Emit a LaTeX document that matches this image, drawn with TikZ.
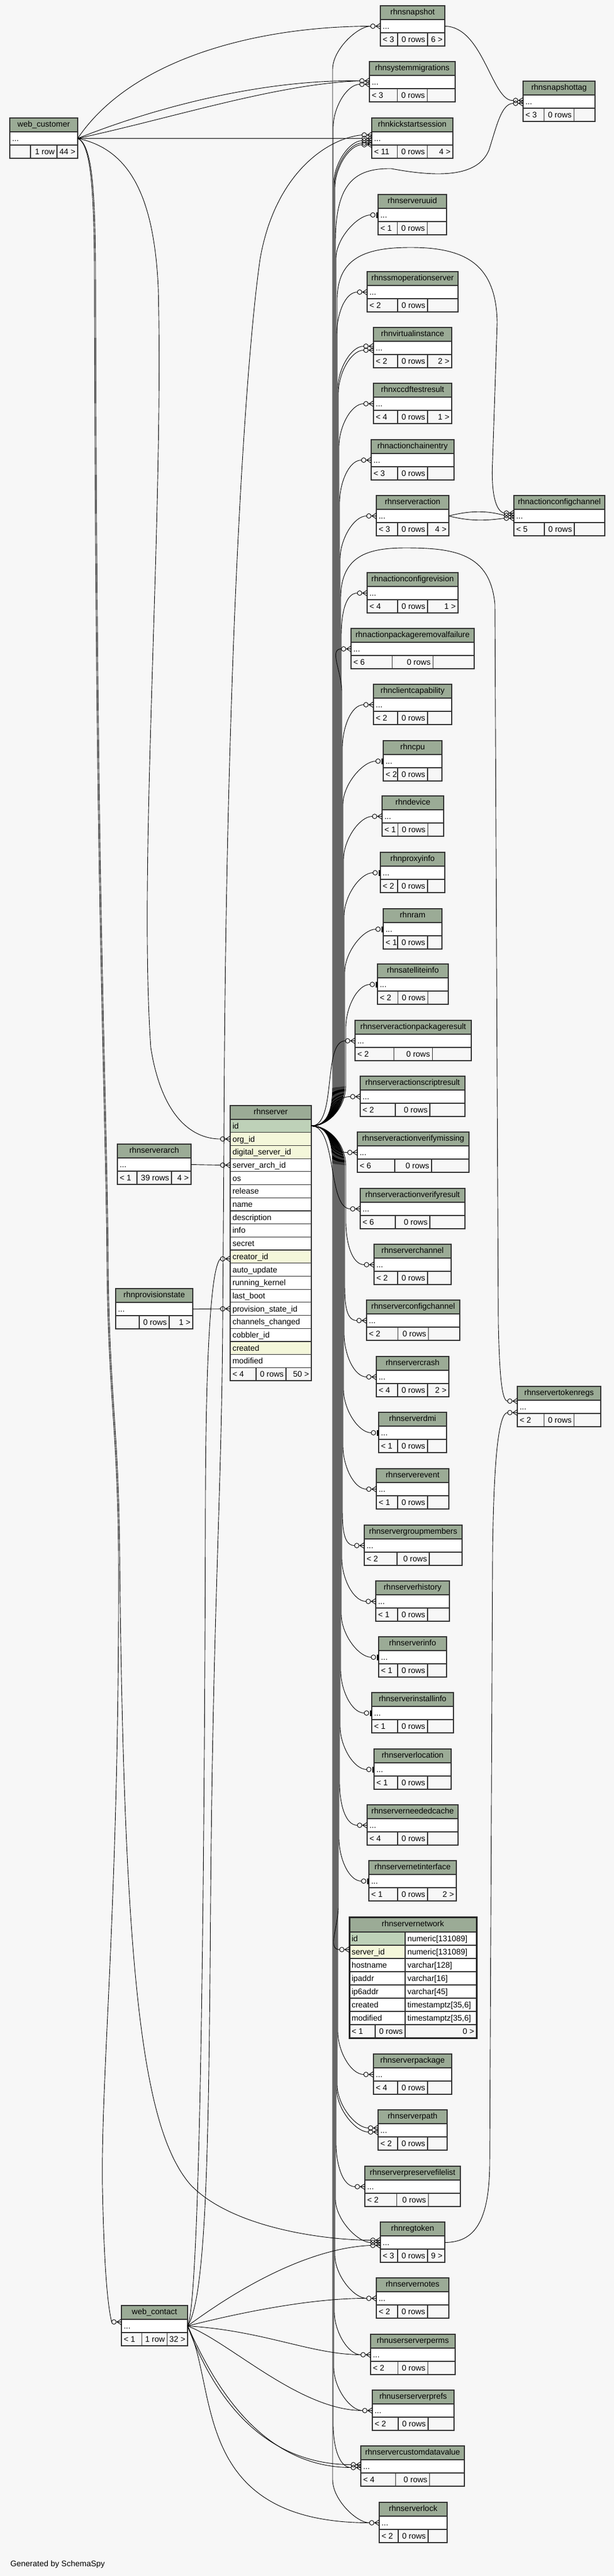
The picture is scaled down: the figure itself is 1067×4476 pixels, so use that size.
\documentclass[tikz,border=0pt]{standalone}
\usepackage{fontspec}
\setmainfont{Liberation Sans}
\usetikzlibrary{calc}
\definecolor{bgcol}{HTML}{F7F7F7}
\definecolor{headcol}{HTML}{9BAB96}
\definecolor{pkcol}{HTML}{BED1B8}
\definecolor{idxcol}{HTML}{F4F7DA}
\tikzset{
  box/.style={draw=black!80, line width=1.2pt},
  ttl/.style={box, fill=headcol, minimum height=24pt, inner sep=0pt, outer sep=0pt, text height=10pt, text depth=3pt},
  dotrow/.style={box, fill=white, minimum height=23pt, inner sep=0pt, outer sep=0pt},
  colrow/.style={box, minimum height=22.7pt, inner sep=0pt, outer sep=0pt},
  txt/.style={inner sep=0pt, outer sep=0pt},
  fk/.style={draw=black, line width=0.9pt},
}
% table: [half width of middle cell], name, left, top, width, title, footer left, middle, right
\newcommand\dbtable[9][0]{%
  \pgfmathsetmacro\tblhw{#5/2}%
  \pgfmathsetmacro\tblhm{#1>0 ? #1 : max(26,0.165*#5)}%
  \node[ttl, minimum width=#5pt] (#2) at ({#3+\tblhw},{#4+12}) {#6};
  \node[dotrow, minimum width=#5pt] (#2-r) at ({#3+\tblhw},{#4+35.5}) {};
  \node[txt, anchor=base west] (#2-d) at ({#3+4},{#4+40.5}) {...};
  \draw[box, fill=bgcol] (#3,{#4+47}) rectangle ({#3+#5},{#4+70});
  \draw[box] ({#3+\tblhw-\tblhm},{#4+47}) -- ({#3+\tblhw-\tblhm},{#4+70}) ({#3+\tblhw+\tblhm},{#4+47}) -- ({#3+\tblhw+\tblhm},{#4+70});
  \node[txt, anchor=base west] (#2-lf) at ({#3+4},{#4+63.5}) {#7};
  \node[txt, anchor=base east] (#2-mf) at ({#3+\tblhw+\tblhm-4},{#4+63.5}) {#8};
  \node[txt, anchor=base east] (#2-rf) at ({#3+#5-4},{#4+63.5}) {#9};
}
\newcommand\srvcol[3]{%
  \node[colrow, fill=#3, minimum width=141pt] (srv-#1) at (470.5,{1956.35+22.7*#1}) {};
  \node[txt, anchor=base west] (srv-t#1) at (404,{1961.35+22.7*#1}) {#2};
}
\newcommand\netcol[4]{%
  \node[colrow, fill=#4, minimum width=97pt, minimum height=23pt] (snet-#1) at (655.5,{3368.5+23*#1}) {};
  \node[colrow, fill=white, minimum width=124pt, minimum height=23pt] (snet-v#1) at (766,{3368.5+23*#1}) {};
  \node[txt, anchor=base west] (snet-t#1) at (611,{3373.5+23*#1}) {#2};
  \node[txt, anchor=base west] (snet-u#1) at (708,{3373.5+23*#1}) {#3};
}
% many end: circle + crow foot
\newcommand\crowat[3]{%
  \coordinate (#1) at ($(#2.west)+(-17,#3)$);
  \draw[fk] ($(#2.west)+(-13,#3)$) circle (4pt);
  \draw[fk] ($(#2.west)+(0,{#3-5})$) -- ($(#2.west)+(-8,#3)$) -- ($(#2.west)+(0,{#3+5})$) ($(#2.west)+(-8,#3)$) -- ($(#2.west)+(0,#3)$);
}
% one end: circle + bar
\newcommand\teeat[3]{%
  \coordinate (#1) at ($(#2.west)+(-13,#3)$);
  \draw[fk] ($(#2.west)+(-9,#3)$) circle (4pt);
  \fill ($(#2.west)+(-3,{#3-5})$) rectangle ($(#2.west)+(0,{#3+5})$);
}
\newcommand\srvup[2]{\draw[fk] (srv-0.east) .. controls ($(srv-0.east)+(30,0)$) and (#1,1925) .. (#1,1885) -- ($(#1,0 |- #2)+(0,75)$) .. controls ($(#1,0 |- #2)+(0,40)$) and ($(#2)+(-22,0)$) .. (#2);}
\newcommand\srvdn[2]{\draw[fk] (srv-0.east) .. controls ($(srv-0.east)+(30,0)$) and (#1,1987) .. (#1,2027) -- ($(#1,0 |- #2)+(0,-75)$) .. controls ($(#1,0 |- #2)+(0,-40)$) and ($(#2)+(-22,0)$) .. (#2);}
\newcommand\srvnear[1]{\draw[fk] (srv-0.east) .. controls ($(srv-0.east)+(45,0)$) and ($(#1)+(-40,0)$) .. (#1);}

\begin{document}
\begin{tikzpicture}[x=1pt,y=-1pt,font=\fontsize{14}{16}\selectfont]
%%%%% START %%%%%
\fill[bgcol] (0,0) rectangle (1067,4476);
\useasboundingbox (0,0) rectangle (1067,4476);

\dbtable{snap}{661}{10}{112}{rhnsnapshot}{< 3}{0 rows}{6 >}
\dbtable{sysmig}{642}{107}{149}{rhnsystemmigrations}{< 3}{0 rows}{}
\dbtable{snaptag}{909}{141}{125}{rhnsnapshottag}{< 3}{0 rows}{}
\dbtable[23]{wcust}{17}{205}{118}{web\_customer}{}{1 row}{44 >}
\dbtable{kick}{646}{205}{141}{rhnkickstartsession}{< 11}{0 rows}{4 >}
\dbtable{uuid}{657}{338}{119}{rhnserveruuid}{< 1}{0 rows}{}
\dbtable{ssmop}{638}{472}{158}{rhnssmoperationserver}{< 2}{0 rows}{}
\dbtable{virt}{649}{569}{136}{rhnvirtualinstance}{< 2}{0 rows}{2 >}
\dbtable{xccdf}{649}{666}{136}{rhnxccdftestresult}{< 4}{0 rows}{1 >}
\dbtable{chain}{645}{764}{144}{rhnactionchainentry}{< 3}{0 rows}{}
\dbtable{sact}{654}{861}{126}{rhnserveraction}{< 3}{0 rows}{4 >}
\dbtable{acc}{893}{861}{158}{rhnactionconfigchannel}{< 5}{0 rows}{}
\dbtable{acrev}{638}{995}{158}{rhnactionconfigrevision}{< 4}{0 rows}{1 >}
\dbtable{aprf}{610}{1092}{214}{rhnactionpackageremovalfailure}{< 6}{0 rows}{}
\dbtable{ccap}{649}{1189}{136}{rhnclientcapability}{< 2}{0 rows}{}
\dbtable{cpu}{666}{1287}{102}{rhncpu}{< 2}{0 rows}{}
\dbtable{dev}{664}{1383}{107}{rhndevice}{< 1}{0 rows}{}
\dbtable{proxy}{661}{1481}{112}{rhnproxyinfo}{< 2}{0 rows}{}
\dbtable{ram}{666}{1579}{102}{rhnram}{< 1}{0 rows}{}
\dbtable{sat}{656}{1675}{123}{rhnsatelliteinfo}{< 2}{0 rows}{}
\dbtable{sapr}{617}{1773}{202}{rhnserveractionpackageresult}{< 2}{0 rows}{}
\dbtable{sasr}{626}{1870}{182}{rhnserveractionscriptresult}{< 2}{0 rows}{}
\dbtable{savm}{621}{1967}{194}{rhnserveractionverifymissing}{< 6}{0 rows}{}
\dbtable{savr}{626}{2065}{182}{rhnserveractionverifyresult}{< 6}{0 rows}{}
\dbtable{schan}{650}{2162}{134}{rhnserverchannel}{< 2}{0 rows}{}
\dbtable{scc}{637}{2259}{162}{rhnserverconfigchannel}{< 2}{0 rows}{}
\dbtable{crash}{654}{2357}{126}{rhnservercrash}{< 4}{0 rows}{2 >}
\dbtable{tokreg}{899}{2409}{145}{rhnservertokenregs}{< 2}{0 rows}{}
\dbtable{dmi}{658}{2454}{118}{rhnserverdmi}{< 1}{0 rows}{}
\dbtable{sevent}{654}{2552}{126}{rhnserverevent}{< 1}{0 rows}{}
\dbtable{sgm}{633}{2650}{170}{rhnservergroupmembers}{< 2}{0 rows}{}
\dbtable{shist}{653}{2747}{128}{rhnserverhistory}{< 1}{0 rows}{}
\dbtable{sinfo}{658}{2844}{118}{rhnserverinfo}{< 1}{0 rows}{}
\dbtable{sinst}{646}{2941}{142}{rhnserverinstallinfo}{< 1}{0 rows}{}
\dbtable{sloc}{650}{3039}{134}{rhnserverlocation}{< 1}{0 rows}{}
\dbtable{snc}{638}{3136}{158}{rhnserverneededcache}{< 4}{0 rows}{}
\dbtable{snetif}{641}{3233}{152}{rhnservernetinterface}{< 1}{0 rows}{2 >}
\dbtable{spkg}{649}{3569}{136}{rhnserverpackage}{< 4}{0 rows}{}
\dbtable{spath}{657}{3666}{120}{rhnserverpath}{< 2}{0 rows}{}
\dbtable{spfl}{634}{3764}{166}{rhnserverpreservefilelist}{< 2}{0 rows}{}
\dbtable{regtok}{661}{3861}{112}{rhnregtoken}{< 3}{0 rows}{9 >}
\dbtable{snotes}{654}{3958}{126}{rhnservernotes}{< 2}{0 rows}{}
\dbtable{usperm}{644}{4056}{147}{rhnuserserverperms}{< 2}{0 rows}{}
\dbtable{uspref}{647}{4153}{142}{rhnuserserverprefs}{< 2}{0 rows}{}
\dbtable{scdv}{627}{4250}{180}{rhnservercustomdatavalue}{< 4}{0 rows}{}
\dbtable{slock}{659}{4348}{118}{rhnserverlock}{< 2}{0 rows}{}
\dbtable[22]{wcont}{211}{4006}{115}{web\_contact}{< 1}{1 row}{32 >}
\dbtable[30]{sarch}{204}{1988}{128}{rhnserverarch}{< 1}{39 rows}{4 >}
\dbtable{pstate}{201}{2239}{134}{rhnprovisionstate}{}{0 rows}{1 >}

% rhnserver
\node[ttl, minimum width=141pt] (srv) at (470.5,1933) {rhnserver};
\srvcol{0}{id}{pkcol}
\srvcol{1}{org\_id}{idxcol}
\srvcol{2}{digital\_server\_id}{idxcol}
\srvcol{3}{server\_arch\_id}{white}
\srvcol{4}{os}{white}
\srvcol{5}{release}{white}
\srvcol{6}{name}{white}
\srvcol{7}{description}{white}
\srvcol{8}{info}{white}
\srvcol{9}{secret}{white}
\srvcol{10}{creator\_id}{idxcol}
\srvcol{11}{auto\_update}{white}
\srvcol{12}{running\_kernel}{white}
\srvcol{13}{last\_boot}{white}
\srvcol{14}{provision\_state\_id}{white}
\srvcol{15}{channels\_changed}{white}
\srvcol{16}{cobbler\_id}{white}
\srvcol{17}{created}{idxcol}
\srvcol{18}{modified}{white}
\draw[box, fill=bgcol] (400,2376.3) rectangle (541,2399);
\draw[box] (445,2376.3) -- (445,2399) (497,2376.3) -- (497,2399);
\node[txt, anchor=base west] (srv-lf) at (404,2392.6) {< 4};
\node[txt, anchor=base east] (srv-mf) at (493,2392.6) {0 rows};
\node[txt, anchor=base east] (srv-rf) at (537,2392.6) {50 >};

% rhnservernetwork
\node[ttl, minimum width=221pt, minimum height=26pt] (snet) at (717.5,3344) {rhnservernetwork};
\netcol{0}{id}{numeric[131089]}{pkcol}
\netcol{1}{server\_id}{numeric[131089]}{idxcol}
\netcol{2}{hostname}{varchar[128]}{white}
\netcol{3}{ipaddr}{varchar[16]}{white}
\netcol{4}{ip6addr}{varchar[45]}{white}
\netcol{5}{created}{timestamptz[35,6]}{white}
\netcol{6}{modified}{timestamptz[35,6]}{white}
\draw[box, fill=bgcol] (607,3518) rectangle (828,3541);
\draw[box] (652,3518) -- (652,3541) (704,3518) -- (704,3541);
\node[txt, anchor=base west] (snet-lf) at (611,3534.5) {< 1};
\node[txt, anchor=base east] (snet-mf) at (700,3534.5) {0 rows};
\node[txt, anchor=base east] (snet-rf) at (824,3534.5) {0 >};
\draw[line width=3pt, draw=black!85] (607,3331) rectangle (828,3541);

\node[txt, anchor=base west] (gen) at (18,4459) {Generated by SchemaSpy};

% end markers
\crowat{snap-a}{snap-r}{0}
\crowat{sysmig-a}{sysmig-r}{-2}
\crowat{sysmig-b}{sysmig-r}{4}
\crowat{snaptag-a}{snaptag-r}{-2}
\crowat{snaptag-b}{snaptag-r}{3}
\crowat{kick-a}{kick-r}{0}
\crowat{kick-b}{kick-r}{-6}
\crowat{kick-c}{kick-r}{4}
\crowat{kick-d}{kick-r}{8}
\crowat{kick-e}{kick-r}{11}
\teeat{uuid-a}{uuid-r}{0}
\crowat{ssmop-a}{ssmop-r}{0}
\crowat{virt-a}{virt-r}{-3}
\crowat{virt-b}{virt-r}{4}
\crowat{xccdf-a}{xccdf-r}{0}
\crowat{chain-a}{chain-r}{0}
\crowat{sact-a}{sact-r}{0}
\crowat{acc-a}{acc-r}{-5}
\crowat{acc-b}{acc-r}{-1}
\crowat{acc-c}{acc-r}{4}
\crowat{acrev-a}{acrev-r}{0}
\crowat{aprf-a}{aprf-r}{0}
\crowat{ccap-a}{ccap-r}{0}
\teeat{cpu-a}{cpu-r}{0}
\crowat{dev-a}{dev-r}{0}
\teeat{proxy-a}{proxy-r}{0}
\teeat{ram-a}{ram-r}{0}
\teeat{sat-a}{sat-r}{0}
\crowat{sapr-a}{sapr-r}{0}
\crowat{sasr-a}{sasr-r}{0}
\crowat{savm-a}{savm-r}{0}
\crowat{savr-a}{savr-r}{0}
\crowat{schan-a}{schan-r}{0}
\crowat{scc-a}{scc-r}{0}
\crowat{crash-a}{crash-r}{0}
\crowat{tokreg-a}{tokreg-r}{-10}
\crowat{tokreg-b}{tokreg-r}{10}
\teeat{dmi-a}{dmi-r}{0}
\crowat{sevent-a}{sevent-r}{0}
\crowat{sgm-a}{sgm-r}{0}
\crowat{shist-a}{shist-r}{0}
\teeat{sinfo-a}{sinfo-r}{0}
\teeat{sinst-a}{sinst-r}{0}
\teeat{sloc-a}{sloc-r}{0}
\crowat{snc-a}{snc-r}{0}
\teeat{snetif-a}{snetif-r}{0}
\crowat{snet-a}{snet-1}{-4}
\crowat{spkg-a}{spkg-r}{0}
\crowat{spath-a}{spath-r}{-4}
\crowat{spath-b}{spath-r}{3}
\crowat{spfl-a}{spfl-r}{0}
\crowat{regtok-a}{regtok-r}{-4}
\crowat{regtok-b}{regtok-r}{5}
\crowat{regtok-c}{regtok-r}{0}
\crowat{snotes-a}{snotes-r}{0}
\crowat{usperm-a}{usperm-r}{0}
\crowat{uspref-a}{uspref-r}{0}
\crowat{scdv-a}{scdv-r}{-3}
\crowat{scdv-b}{scdv-r}{2}
\crowat{slock-a}{slock-r}{0}
\crowat{wcont-a}{wcont-r}{-7}
\crowat{srv-a}{srv-1}{0}
\crowat{srv-b}{srv-10}{4}
\crowat{srv-c}{srv-3}{0}
\crowat{srv-d}{srv-14}{0}

% web_customer
\draw[fk] (wcust-r.east) .. controls (230,100) and (450,46) .. (snap-a);
\draw[fk] (wcust-r.east) .. controls (300,175) and (480,138) .. (sysmig-a);
\draw[fk] (wcust-r.east) .. controls (300,205) and (480,146) .. (sysmig-a);
\draw[fk] (wcust-r.east) -- (kick-a);
\draw[fk] (wcust-r.east) .. controls (230,260) and (268,350) .. (275,500) .. controls (285,900) and (240,1500) .. (262,1820) .. controls (280,1935) and (330,1979) .. (srv-a);
\draw[fk] (wcust-r.east) .. controls (158,250) and (163,330) .. (164,460) .. controls (166,1600) and (184,1900) .. (186,2200) .. controls (188,2420) and (204,2480) .. (206,2700) .. controls (208,3300) and (175,3600) .. (178,3800) .. controls (181,3950) and (188,4010) .. (wcont-a);
\draw[fk] (wcust-r.east) .. controls (160,250) and (165,330) .. (166,460) .. controls (168,1600) and (186,1900) .. (188,2200) .. controls (190,2420) and (206,2480) .. (208,2700) .. controls (215,3450) and (250,3700) .. (330,3795) .. controls (400,3870) and (560,3892) .. (regtok-a);

% web_contact
\draw[fk] (wcont-r.east) .. controls (352,3990) and (356,3000) .. (357,2600) .. controls (358,2330) and (368,2200) .. (srv-b);
\draw[fk] (wcont-r.east) .. controls (360,3990) and (363,3700) .. (366,3300) .. controls (370,2800) and (385,2600) .. (387,2300) -- (389,2000) .. controls (392,1100) and (430,600) .. (452,450) .. controls (478,300) and (570,240) .. (kick-b);
\draw[fk] (wcont-r.east) .. controls (450,3950) and (560,3905) .. (regtok-b);
\draw[fk] (wcont-r.east) .. controls (450,4010) and (560,3993) .. (snotes-a);
\draw[fk] (wcont-r.east) .. controls (460,4050) and (540,4091) .. (usperm-a);
\draw[fk] (wcont-r.east) .. controls (400,4070) and (520,4188) .. (uspref-a);
\draw[fk] (wcont-r.east) .. controls (355,4120) and (430,4282) .. (scdv-a);
\draw[fk] (wcont-r.east) .. controls (360,4115) and (440,4287) .. (scdv-b);
\draw[fk] (wcont-r.east) .. controls (380,4150) and (330,4383) .. (slock-a);

% rhnserverarch, rhnprovisionstate
\draw[fk] (sarch-r.east) -- (srv-c);
\draw[fk] (pstate-r.east) -- (srv-d);

% rhnserver up
\srvup{578}{snap-a}
\srvup{579}{sysmig-b}
\srvup{580}{kick-c}
\srvup{581}{kick-d}
\srvup{582}{kick-e}
\srvup{584}{uuid-a}
\srvup{585}{ssmop-a}
\srvup{587}{virt-a}
\srvup{588}{virt-b}
\srvup{589}{xccdf-a}
\srvup{590}{chain-a}
\srvup{591}{sact-a}
\srvup{593}{acrev-a}
\srvup{594}{aprf-a}
\srvup{595}{ccap-a}
\srvup{596}{cpu-a}
\srvup{597}{dev-a}
\srvup{598}{proxy-a}
\srvup{599}{ram-a}
\srvup{601}{sat-a}
\srvnear{sapr-a}
\srvnear{sasr-a}
\srvnear{savm-a}
\srvnear{savr-a}
\draw[fk] (srv-0.east) .. controls (571,1956) and (583,1925) .. (583,1885) -- (583,420) .. controls (583,320) and (615,292) .. (680,293) .. controls (770,310) and (832,305) .. (850,260) .. controls (864,215) and (872,180) .. (snaptag-b);
\draw[fk] (srv-0.east) .. controls (571,1956) and (586,1925) .. (586,1885) -- (586,520) .. controls (586,445) and (640,430) .. (714,430) .. controls (810,430) and (862,460) .. (864,560) -- (856,800) .. controls (853,860) and (862,888) .. (acc-a);
\draw[fk] (srv-0.east) .. controls (571,1956) and (592,1925) .. (592,1885) -- (592,1040) .. controls (592,965) and (640,952) .. (705,952) .. controls (790,952) and (852,962) .. (860,1050) -- (866,2300) .. controls (868,2390) and (872,2434) .. (tokreg-a);

% rhnserver down
\srvdn{601}{schan-a}
\srvdn{599}{scc-a}
\srvdn{598}{crash-a}
\srvdn{597}{dmi-a}
\srvdn{596}{sevent-a}
\srvdn{595}{sgm-a}
\srvdn{594}{shist-a}
\srvdn{593}{sinfo-a}
\srvdn{592}{sinst-a}
\srvdn{591}{sloc-a}
\srvdn{590}{snc-a}
\srvdn{589}{snetif-a}
\srvdn{588}{snet-a}
\srvdn{587}{spkg-a}
\srvdn{586}{spath-a}
\srvdn{585}{spath-b}
\srvdn{584}{spfl-a}
\srvdn{583}{regtok-c}
\srvdn{582}{snotes-a}
\srvdn{581}{usperm-a}
\srvdn{580}{uspref-a}
\srvdn{579}{scdv-b}
\srvdn{578}{slock-a}

% others
\draw[fk] (snap-r.east) .. controls (840,46) and (855,178) .. (snaptag-a);
\draw[fk] (sact-r.east) .. controls (820,886) and (850,888) .. (acc-b);
\draw[fk] (sact-r.east) .. controls (820,907) and (850,904) .. (acc-c);
\draw[fk] (regtok-r.east) .. controls (825,3896) and (850,3860) .. (851,3760) -- (856,2700) .. controls (858,2520) and (868,2455) .. (tokreg-b);
%%%%% END %%%%%
\end{tikzpicture}
\end{document}
